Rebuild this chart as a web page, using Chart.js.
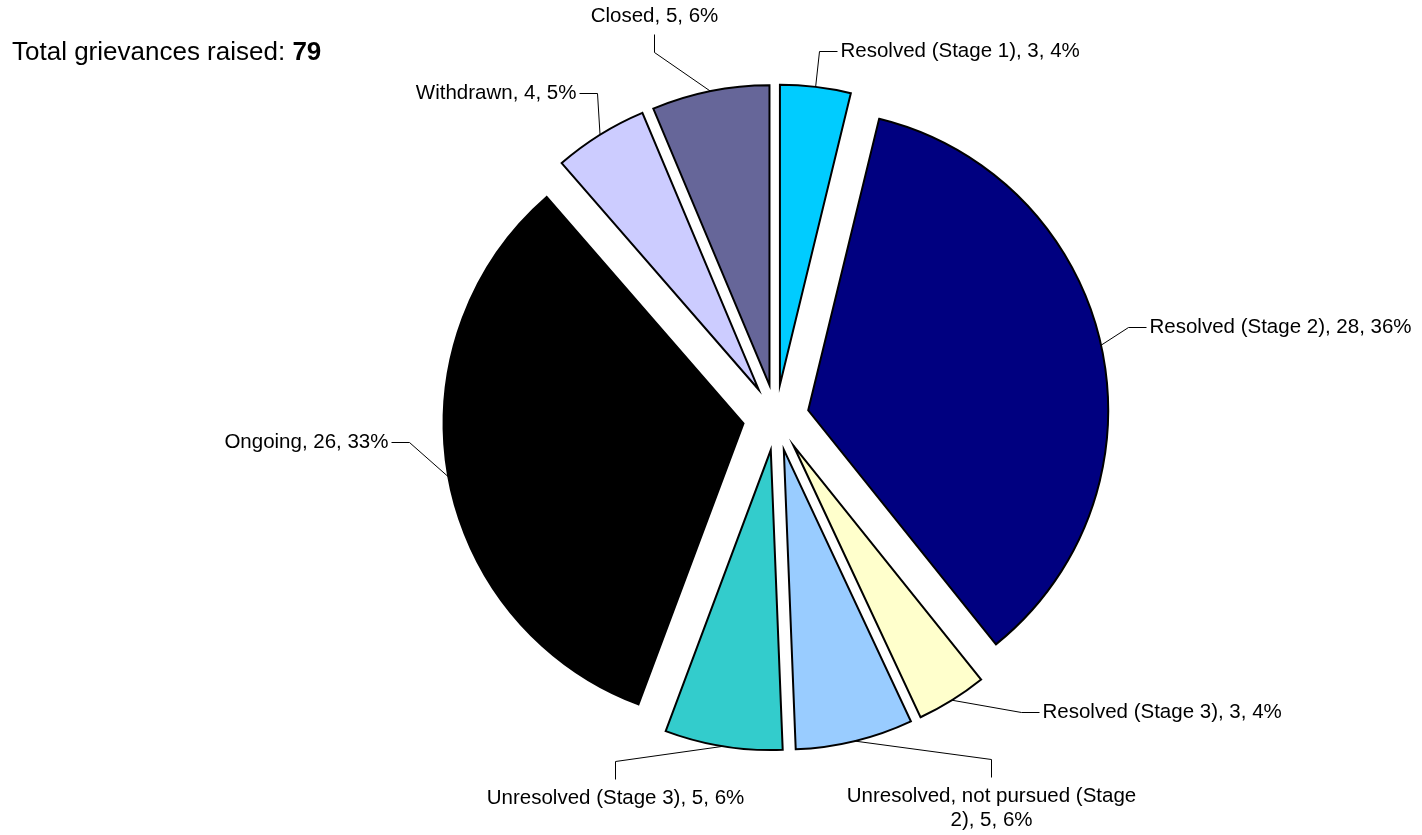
<!DOCTYPE html>
<html>
<head>
<meta charset="utf-8">
<script src="https://cdn.jsdelivr.net/npm/chart.js@4/dist/chart.umd.min.js"></script>
<style>
  html, body { margin: 0; padding: 0; background: #fff; }
  #wrap { position: relative; width: 1422px; height: 835px; }
  #total {
    position: absolute; left: 12px; top: 36px;
    font: 26px "Liberation Sans", Arial, sans-serif; line-height: 30px; color: #000;
  }
  canvas { position: absolute; left: 0; top: 0; }
</style>
</head>
<body>
<div id="wrap">
  <canvas id="pie" width="1422" height="835"></canvas>
  <div id="total">Total grievances raised: <b id="total-count"></b></div>
</div>
<script>
/* ========= Data ========= */
const categories = [
  'Resolved (Stage 1)',
  'Resolved (Stage 2)',
  'Resolved (Stage 3)',
  'Unresolved, not pursued (Stage 2)',
  'Unresolved (Stage 3)',
  'Ongoing',
  'Withdrawn',
  'Closed'
];
const counts   = [3, 28, 3, 5, 5, 26, 4, 5];
const percents = [4, 36, 4, 6, 6, 33, 5, 6];

/* ========= Styling ========= */
const sliceColors = ['#00CCFF', '#000080', '#FFFFCC', '#99CCFF', '#33CCCC', '#000000', '#CCCCFF', '#666699'];
const EXPLODE = 33;
const FONT = '20.5px "Liberation Sans", Arial, sans-serif';

// label leader: elbow offset from the slice edge, which way the stub runs, text lines
const labelLayout = [
  { ex: 3,    ey: -36, side: 'right' },
  { ex: 27,   ey: -18, side: 'right' },
  { ex: 69,   ey: 12,  side: 'right' },
  { ex: 136,  ey: 18,  side: 'below', lines: ['Unresolved, not pursued (Stage', '2), 5, 6%'] },
  { ex: -108, ey: 15,  side: 'below' },
  { ex: -39,  ey: -35, side: 'left' },
  { ex: -3,   ey: -42, side: 'left' },
  { ex: -56,  ey: -39, side: 'above' }
];

document.getElementById('total-count').textContent = counts.reduce((a, b) => a + b, 0);

/* ========= Exploded slice: shifted whole, same radius for every slice ========= */
class ExplodedArc extends Chart.ArcElement {
  draw(ctx) {
    const o = this.options;
    const { x, y, startAngle, endAngle, outerRadius } = this;
    const mid = (startAngle + endAngle) / 2;
    const shift = o.offset || 0;
    ctx.save();
    ctx.translate(Math.cos(mid) * shift, Math.sin(mid) * shift);
    ctx.beginPath();
    ctx.moveTo(x, y);
    ctx.arc(x, y, outerRadius, startAngle, endAngle);
    ctx.closePath();
    ctx.fillStyle = o.backgroundColor;
    ctx.fill();
    ctx.lineWidth = o.borderWidth;
    ctx.strokeStyle = o.borderColor;
    ctx.lineJoin = 'miter';
    ctx.stroke();
    ctx.restore();
  }
}
ExplodedArc.id = 'explodedArc';
Chart.register(ExplodedArc);
Chart.defaults.datasets.pie.dataElementType = 'explodedArc';

/* ========= Labels with leader lines ========= */
const px = v => Math.round(v) + 0.5;

const leaderLabels = {
  id: 'leaderLabels',
  afterDatasetsDraw(chart) {
    const ctx = chart.ctx;
    const arcs = chart.getDatasetMeta(0).data;
    ctx.save();
    ctx.font = FONT;
    ctx.fillStyle = '#000';
    ctx.strokeStyle = '#000';
    ctx.lineWidth = 1;
    ctx.textBaseline = 'middle';

    arcs.forEach((arc, i) => {
      const lay = labelLayout[i];
      const mid = (arc.startAngle + arc.endAngle) / 2;
      const r = arc.outerRadius + (arc.options.offset || 0);
      const ax = arc.x + Math.cos(mid) * r;
      const ay = arc.y + Math.sin(mid) * r;
      const bx = px(ax + lay.ex);
      const by = px(ay + lay.ey);
      const stub = 18;
      let sx = bx, sy = by;
      if (lay.side === 'right') sx = bx + stub;
      if (lay.side === 'left')  sx = bx - stub;
      if (lay.side === 'above') sy = by - stub;
      if (lay.side === 'below') sy = by + stub;

      ctx.beginPath();
      ctx.moveTo(ax, ay);
      ctx.lineTo(bx, by);
      ctx.lineTo(sx, sy);
      ctx.stroke();

      const lines = lay.lines || [`${categories[i]}, ${counts[i]}, ${percents[i]}%`];
      if (lay.side === 'right') {
        ctx.textAlign = 'left';
        ctx.fillText(lines[0], sx + 3, sy);
      } else if (lay.side === 'left') {
        ctx.textAlign = 'right';
        ctx.fillText(lines[0], sx - 3, sy);
      } else if (lay.side === 'above') {
        ctx.textAlign = 'center';
        ctx.fillText(lines[0], sx, sy - 18);
      } else {
        ctx.textAlign = 'center';
        lines.forEach((t, k) => ctx.fillText(t, sx, sy + 19 + k * 24));
      }
    });
    ctx.restore();
  }
};

/* ========= Chart ========= */
new Chart(document.getElementById('pie'), {
  type: 'pie',
  data: {
    labels: categories,
    datasets: [{
      data: counts,
      backgroundColor: sliceColors,
      borderColor: '#000',
      borderWidth: 2,
      offset: EXPLODE
    }]
  },
  options: {
    responsive: false,
    animation: false,
    events: [],
    radius: 300,
    layout: { padding: { left: 130, right: 0, top: 0, bottom: 0 } },
    plugins: {
      legend: { display: false },
      tooltip: { enabled: false }
    }
  },
  plugins: [leaderLabels]
});
</script>
</body>
</html>
